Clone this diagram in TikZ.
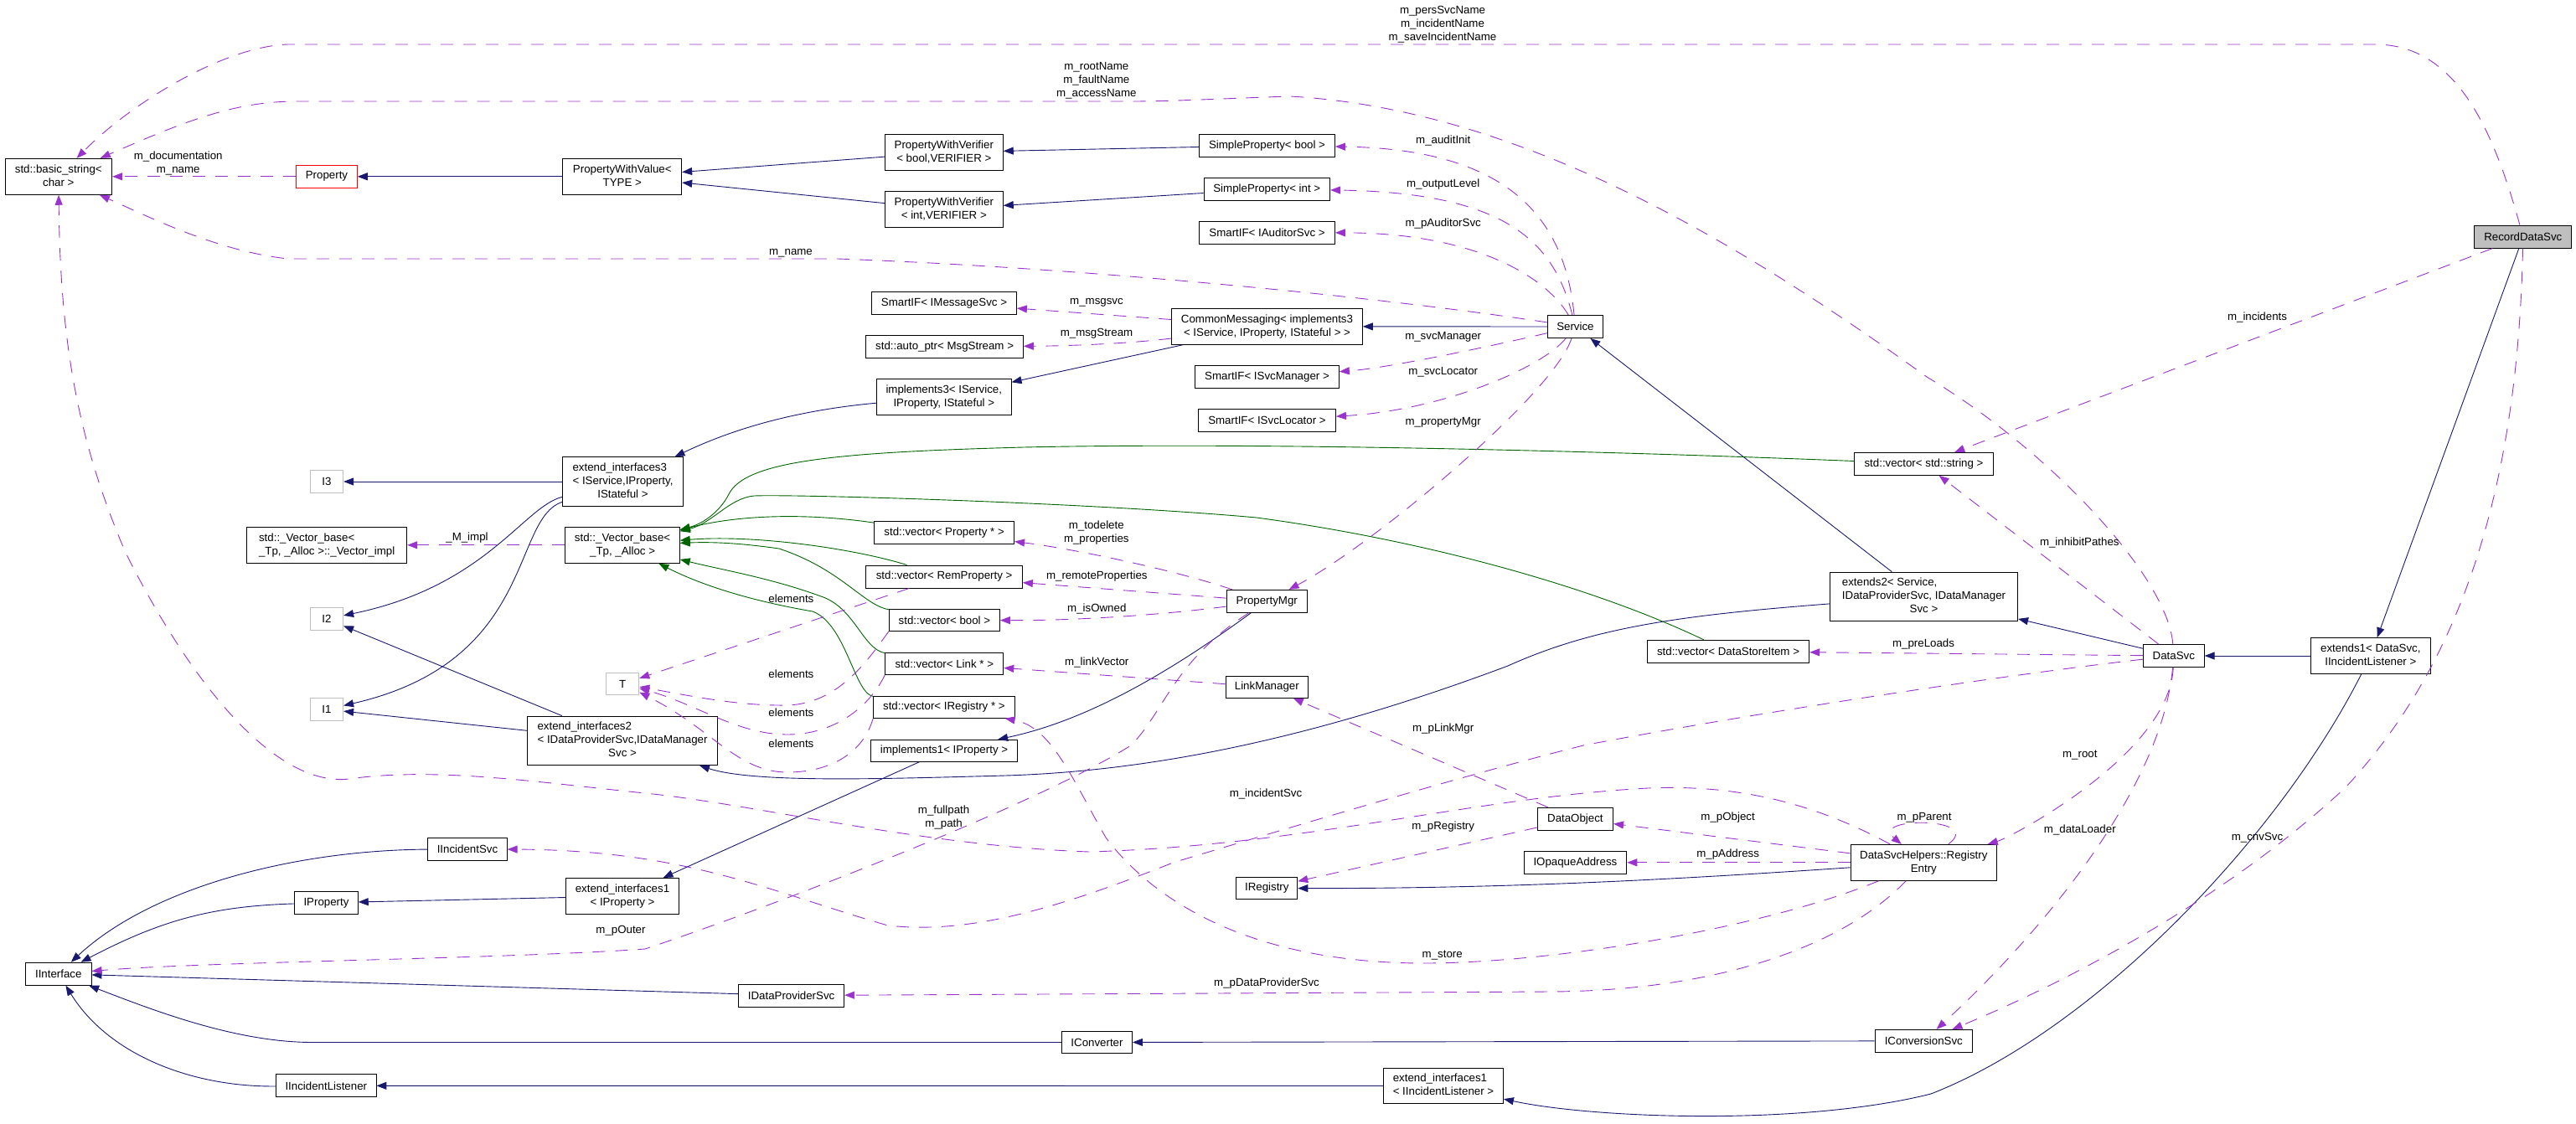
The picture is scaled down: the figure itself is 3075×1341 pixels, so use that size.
\documentclass[tikz,border=0pt]{standalone}
\usepackage{fontspec}
\setmainfont{Liberation Sans}
\usetikzlibrary{arrows.meta, positioning}
\definecolor{inhblue}{HTML}{191970}
\definecolor{tplgreen}{HTML}{006400}
\definecolor{usepurple}{HTML}{9A32CD}
\definecolor{boxgrey}{HTML}{BFBFBF}
% first lines left, last line centred (as doxygen does)
\newcommand{\twoline}[2]{\begin{tabular}{@{}l@{}}#1\\\multicolumn{1}{@{}c@{}}{#2}\end{tabular}}
\tikzset{
	cls/.style={draw=black, line width=0.9pt, fill=white, inner sep=2pt, minimum height=27pt},
	cls2/.style={cls, minimum height=43pt},
	cls3/.style={cls, minimum height=58.5pt},
	ghost/.style={cls, draw=boxgrey},
	lbl/.style={inner sep=0pt, text height=9.5pt, text depth=3pt},
	lblm/.style={inner sep=0pt, align=center},
	inh/.style={draw=inhblue, line width=0.9pt, -{Triangle[length=12pt,width=9pt]}},
	tpl/.style={draw=tplgreen, line width=0.9pt, -{Triangle[length=12pt,width=9pt]}},
	use/.style={draw=usepurple, line width=0.9pt, dash pattern=on 15pt off 12pt, -{Triangle[length=12pt,width=9pt]}}
}

\begin{document}
\begin{tikzpicture}[x=1pt, y=-1pt, font=\fontsize{13.3pt}{16pt}\selectfont]
			\useasboundingbox (0,0) rectangle (3075,1341);
			% Classes, left column
			\node[cls2, minimum width=127.7pt] (bstr) at (69.8,210.8) {\twoline{std::basic\_string<}{char >}};
			\node[cls, draw=red, minimum width=72.7pt] (prop) at (390,210.8) {Property};
			\node[ghost, minimum width=39.3pt] (i3) at (390,575) {I3};
			\node[cls2, minimum width=191.1pt] (vimpl) at (390.2,650.8) {\twoline{std::\_Vector\_base<}{\_Tp, \_Alloc >::\_Vector\_impl}};
			\node[ghost, minimum width=39.3pt] (i2) at (390,739) {I2};
			\node[ghost, minimum width=39.3pt] (i1) at (390,847) {I1};
			\node[cls, minimum width=94.3pt] (iis) at (558,1013.8) {IIncidentSvc};
			\node[cls, minimum width=75.6pt] (ipr) at (389.5,1077.8) {IProperty};
			\node[cls, minimum width=78.5pt] (iif) at (69.8,1162.7) {IInterface};
			\node[cls, minimum width=119.3pt] (iil) at (389.3,1296.3) {IIncidentListener};
			% Classes, second column
			\node[cls2, minimum width=141.8pt] (pwv) at (742.8,210.8) {\twoline{PropertyWithValue<}{TYPE >}};
			\node[cls3, minimum width=144.3pt] (ei3) at (743.5,575) {\twoline{extend\_interfaces3\\< IService,IProperty,}{IStateful >}};
			\node[cls2, minimum width=136.4pt] (vbase) at (743.1,650.8) {\twoline{std::\_Vector\_base<}{\_Tp, \_Alloc >}};
			\node[ghost, minimum width=39.3pt, minimum height=25.6pt] (tparam) at (743.2,816.5) {T};
			\node[cls3, minimum width=226.7pt] (ei2) at (743.05,884.3) {\twoline{extend\_interfaces2\\< IDataProviderSvc,IDataManager}{Svc >}};
			\node[cls2, minimum width=134.5pt] (ei1p) at (743,1070) {\twoline{extend\_interfaces1}{< IProperty >}};
			\node[cls, minimum width=126.2pt] (idps) at (944.6,1188.5) {IDataProviderSvc};
			% Classes, third column
			\node[cls2, minimum width=141pt] (pwvb) at (1126.8,181.8) {\twoline{PropertyWithVerifier}{< bool,VERIFIER >}};
			\node[cls2, minimum width=141pt] (pwvi) at (1126.8,249.8) {\twoline{PropertyWithVerifier}{< int,VERIFIER >}};
			\node[cls, minimum width=172.9pt] (smsg) at (1127,361.8) {SmartIF< IMessageSvc >};
			\node[cls, minimum width=187.6pt] (aptr) at (1127.6,413.8) {std::auto\_ptr< MsgStream >};
			\node[cls2, minimum width=160.6pt] (impl3) at (1126.8,473.8) {\twoline{implements3< IService,}{IProperty, IStateful >}};
			\node[cls, minimum width=167pt] (vprop) at (1127.1,636.3) {std::vector< Property * >};
			\node[cls, minimum width=186.6pt] (vrem) at (1127.1,688.5) {std::vector< RemProperty >};
			\node[cls, minimum width=132.1pt, minimum height=26pt] (vbool) at (1127.4,740.3) {std::vector< bool >};
			\node[cls, minimum width=141pt, minimum height=26pt] (vlink) at (1127.3,792.3) {std::vector< Link * >};
			\node[cls, minimum width=168.5pt, minimum height=26pt] (virg) at (1126.9,844.3) {std::vector< IRegistry * >};
			\node[cls, minimum width=174.9pt, minimum height=26pt] (impl1) at (1127,896.3) {implements1< IProperty >};
			\node[cls, minimum width=84pt, minimum height=25.6pt] (iconv) at (1309.5,1244.5) {IConverter};
			% Classes, fourth column
			\node[cls, minimum width=161.9pt] (spb) at (1512.5,173.8) {SimpleProperty< bool >};
			\node[cls, minimum width=150.6pt] (spi) at (1512.3,225.8) {SimpleProperty< int >};
			\node[cls, minimum width=161.9pt] (sfa) at (1512.5,277.8) {SmartIF< IAuditorSvc >};
			\node[cls2, minimum width=227.7pt] (cm) at (1512.5,389.8) {\twoline{CommonMessaging< implements3}{< IService, IProperty, IStateful > >}};
			\node[cls, minimum width=171.7pt] (smgr) at (1512.5,449.8) {SmartIF< ISvcManager >};
			\node[cls, minimum width=163.9pt] (sloc) at (1512.5,501.8) {SmartIF< ISvcLocator >};
			\node[cls, minimum width=96.6pt] (pmgr) at (1512.3,717.8) {PropertyMgr};
			\node[cls, minimum width=98.6pt, minimum height=26pt] (lmgr) at (1512.3,820.3) {LinkManager};
			\node[cls, minimum width=73pt, minimum height=25.6pt] (ireg) at (1512.3,1060.5) {IRegistry};
			\node[cls2, minimum width=142.9pt, minimum height=41.6pt] (ei1l) at (1723,1296.5) {\twoline{extend\_interfaces1}{< IIncidentListener >}};
			% Classes, right part
			\node[cls, minimum width=65.8pt] (srv) at (1880.4,390) {Service};
			\node[cls, minimum width=90.4pt] (dobj) at (1880.4,977.8) {DataObject};
			\node[cls, minimum width=122.8pt] (ioa) at (1880.4,1029.8) {IOpaqueAddress};
			\node[cls, minimum width=193.5pt] (vdsi) at (2063,777.8) {std::vector< DataStoreItem >};
			\node[cls, minimum width=166.3pt] (vstr) at (2296.5,553.8) {std::vector< std::string >};
			\node[cls3, minimum width=224.2pt] (ext2) at (2296.5,712.3) {\twoline{extends2< Service,\\IDataProviderSvc, IDataManager}{Svc >}};
			\node[cls2, minimum width=174.6pt] (re) at (2296.3,1029.8) {\twoline{DataSvcHelpers::Registry}{Entry}};
			\node[cls, minimum width=116.6pt] (ics) at (2296.3,1242.8) {IConversionSvc};
			\node[cls, minimum width=72.7pt] (dsvc) at (2594.8,783) {DataSvc};
			\node[cls2, minimum width=143pt, minimum height=42.6pt] (ext1) at (2829.8,783) {\twoline{extends1< DataSvc,}{IIncidentListener >}};
			\node[cls, fill=boxgrey, minimum width=115.9pt] (rds) at (3011.8,282.7) {RecordDataSvc};

			% Inheritance
			\draw[inh] (pwv) -- (prop);
			\draw[inh] (pwvb) -- (pwv);
			\draw[inh] (pwvi) -- (pwv);
			\draw[inh] (spb) -- (pwvb);
			\draw[inh] (spi) -- (pwvi);
			\draw[inh] (srv) -- (cm);
			\draw[inh] (cm) -- (impl3);
			\draw[inh] (impl3) .. controls (950,490) and (875,512) .. (ei3);
			\draw[inh] (ei3) -- (i3);
			\draw[inh] (ei3) .. controls (625,605) and (580,700) .. (i2);
			\draw[inh] (ei3) .. controls (610,620) and (640,790) .. (i1);
			\draw[inh] (ei2) -- (i2);
			\draw[inh] (ei2) -- (i1);
			\draw[inh] (ext2) .. controls (2000,735) and (1900,750) .. (1800,795) .. controls (1600,870) and (1400,920) .. (1200,926) .. controls (1050,930) and (900,935) .. (ei2);
			\draw[inh] (ext2) -- (srv);
			\draw[inh] (dsvc) -- (ext2);
			\draw[inh] (ext1) -- (dsvc);
			\draw[inh] (rds) -- (ext1);
			\draw[inh] (ext1) .. controls (2720,1000) and (2500,1230) .. (2305,1306) .. controls (2150,1345) and (1900,1335) .. (ei1l);
			\draw[inh] (ei1l) -- (iil);
			\draw[inh] (re) .. controls (2000,1050) and (1800,1061) .. (ireg);
			\draw[inh] (ics) -- (iconv);
			\draw[inh] (ei1p) -- (ipr);
			\draw[inh] (impl1) -- (ei1p);
			\draw[inh] (pmgr) .. controls (1400,800) and (1300,860) .. (impl1);
			\draw[inh] (iis) .. controls (350,1015) and (180,1060) .. (iif);
			\draw[inh] (ipr) .. controls (250,1082) and (190,1100) .. (iif);
			\draw[inh] (idps) -- (iif);
			\draw[inh] (iconv) -- (373,1244.5) .. controls (280,1244.5) and (180,1205) .. (iif);
			\draw[inh] (iil) .. controls (230,1298) and (130,1260) .. (iif);

			% Template instances
			\draw[tpl] (vstr) .. controls (1900,538) and (1500,528) .. (1222,534) .. controls (1000,540) and (890,550) .. (870,590) .. controls (860,610) and (840,625) .. (vbase);
			\draw[tpl] (vdsi) .. controls (1900,700) and (1700,645) .. (1500,618) .. controls (1300,600) and (950,590) .. (900,592) .. controls (870,595) and (850,625) .. (vbase);
			\draw[tpl] (vprop) .. controls (960,612) and (880,615) .. (vbase);
			\draw[tpl] (vrem) .. controls (1020,655) and (900,638) .. (vbase);
			\draw[tpl] (vbool) .. controls (1030,722) and (1005,680) .. (930,655) .. controls (880,648) and (850,647) .. (vbase);
			\draw[tpl] (vlink) .. controls (1030,775) and (1020,725) .. (980,712) .. controls (920,690) and (860,680) .. (vbase);
			\draw[tpl] (virg) .. controls (1020,828) and (1010,745) .. (970,730) .. controls (900,718) and (840,700) .. (vbase);

			% Usage
			\draw[use] (prop) -- (bstr);
			\draw[use] (rds) .. controls (2975,150) and (2930,53) .. (2835,53) -- (344,53) .. controls (270,55) and (160,120) .. (bstr);
			\draw[use] (dsvc) .. controls (2588,690) and (2450,540) .. (2300,450) .. controls (2050,270) and (1800,130) .. (1540,115) .. controls (1450,118) and (1400,121) .. (1350,121) -- (354,121) .. controls (280,121) and (220,145) .. (bstr);
			\draw[use] (srv) .. controls (1650,355) and (1300,320) .. (1000,309) -- (344,309) .. controls (260,300) and (180,260) .. (bstr);
			\draw[use] (re) .. controls (2150,950) and (2050,935) .. (1950,942) .. controls (1750,955) and (1550,1010) .. (1300,1017) .. controls (1100,1010) and (900,960) .. (770,947) .. controls (650,935) and (520,915) .. (417,930) .. controls (330,940) and (230,820) .. (150,660) .. controls (90,520) and (72,400) .. (bstr);
			\draw[use] (dsvc) .. controls (2400,805) and (2100,850) .. (1890,890) .. controls (1750,925) and (1550,985) .. (1400,1030) .. controls (1250,1090) and (1150,1115) .. (1060,1105) .. controls (920,1065) and (820,1015) .. (iis);
			\draw[use] (dsvc) -- (vdsi);
			\draw[use] (dsvc) -- (vstr);
			\draw[use] (rds) -- (vstr);
			\draw[use] (dsvc) .. controls (2590,900) and (2400,1000) .. (re);
			\draw[use] (dsvc) .. controls (2580,950) and (2420,1130) .. (ics);
			\draw[use] (rds) .. controls (3005,600) and (2930,800) .. (2800,940) .. controls (2650,1080) and (2450,1180) .. (ics);
			\draw[use] (re) -- (dobj);
			\draw[use] (re) -- (ioa);
			\draw[use] (re) .. controls (2370,975) and (2230,975) .. (re);
			\draw[use] (re) .. controls (2200,1130) and (2050,1183) .. (1850,1184) -- (idps);
			\draw[use] (re) .. controls (2100,1110) and (1850,1150) .. (1700,1150) .. controls (1500,1150) and (1380,1080) .. (1320,1000) .. controls (1280,930) and (1255,868) .. (virg);
			\draw[use] (dobj) -- (ireg);
			\draw[use] (dobj) -- (lmgr);
			\draw[use] (srv) .. controls (1868,260) and (1800,178) .. (spb);
			\draw[use] (srv) .. controls (1855,290) and (1800,230) .. (spi);
			\draw[use] (srv) .. controls (1845,330) and (1760,278) .. (sfa);
			\draw[use] (srv) .. controls (1750,420) and (1650,440) .. (smgr);
			\draw[use] (srv) .. controls (1840,440) and (1720,490) .. (sloc);
			\draw[use] (srv) .. controls (1855,470) and (1640,650) .. (pmgr);
			\draw[use] (cm) -- (smsg);
			\draw[use] (cm) .. controls (1350,410) and (1280,413) .. (aptr);
			\draw[use] (pmgr) .. controls (1400,680) and (1280,655) .. (vprop);
			\draw[use] (pmgr) -- (vrem);
			\draw[use] (pmgr) .. controls (1380,735) and (1280,741) .. (vbool);
			\draw[use] (lmgr) -- (vlink);
			\draw[use] (vbase) -- (vimpl);
			\draw[use] (vrem) -- (tparam);
			\draw[use] (vbool.south west) .. controls (1035,790) and (1000,840) .. (940,842) .. controls (880,843) and (820,830) .. (tparam);
			\draw[use] (vlink.south west) .. controls (1040,840) and (1000,877) .. (940,877) .. controls (880,877) and (830,840) .. (tparam);
			\draw[use] (virg.south west) .. controls (1030,900) and (990,922) .. (940,922) .. controls (880,922) and (850,870) .. (tparam);
			\draw[use] (pmgr) .. controls (1400,790) and (1390,850) .. (1350,890) .. controls (1230,965) and (900,1090) .. (770,1133) .. controls (600,1145) and (250,1148) .. (iif);

			% Member names
			\node[lblm] (lpers) at (1722,28.7) {m\_persSvcName\\m\_incidentName\\m\_saveIncidentName};
			\node[lblm] (lroot) at (1308.8,96.7) {m\_rootName\\m\_faultName\\m\_accessName};
			\node[lblm] (ldoc) at (212.7,194.7) {m\_documentation\\m\_name};
			\node[lbl] (lname) at (944,301) {m\_name};
			\node[lbl] (laudit) at (1722.7,168.7) {m\_auditInit};
			\node[lbl] (lout) at (1722.7,220.7) {m\_outputLevel};
			\node[lbl] (lpaud) at (1722.7,267.7) {m\_pAuditorSvc};
			\node[lbl] (lmsgsvc) at (1309,360.7) {m\_msgsvc};
			\node[lbl] (lmsgstr) at (1309,398.7) {m\_msgStream};
			\node[lbl] (lsvcm) at (1722.7,402.7) {m\_svcManager};
			\node[lbl] (lsvcl) at (1722.7,444.3) {m\_svcLocator};
			\node[lbl] (lpmgr) at (1722.7,504) {m\_propertyMgr};
			\node[lbl] (linc) at (2694.5,379.3) {m\_incidents};
			\node[lbl] (limpl) at (557.5,642.3) {\_M\_impl};
			\node[lblm] (ltodel) at (1308.8,635.7) {m\_todelete\\m\_properties};
			\node[lbl] (lremote) at (1309.3,688.7) {m\_remoteProperties};
			\node[lbl] (lowned) at (1309.3,727.3) {m\_isOwned};
			\node[lbl] (llink) at (1309.3,791.3) {m\_linkVector};
			\node[lbl] (lel1) at (944.4,716) {elements};
			\node[lbl] (lel2) at (944.4,806.7) {elements};
			\node[lbl] (lel3) at (944.4,852.7) {elements};
			\node[lbl] (lel4) at (944.4,889) {elements};
			\node[lbl] (linhib) at (2482.3,648.7) {m\_inhibitPathes};
			\node[lbl] (lpre) at (2296,769) {m\_preLoads};
			\node[lbl] (lplink) at (1722.7,870.7) {m\_pLinkMgr};
			\node[lbl] (lroot2) at (2482.8,901) {m\_root};
			\node[lbl] (ldl) at (2482.8,991.7) {m\_dataLoader};
			\node[lbl] (lcnv) at (2694.5,1000.7) {m\_cnvSvc};
			\node[lblm] (lfull) at (1126.6,975.7) {m\_fullpath\\m\_path};
			\node[lbl] (lincsvc) at (1511,948.7) {m\_incidentSvc};
			\node[lbl] (lpreg) at (1722.7,987.7) {m\_pRegistry};
			\node[lbl] (lpobj) at (2062.6,976.7) {m\_pObject};
			\node[lbl] (lpadr) at (2062.6,1020.7) {m\_pAddress};
			\node[lbl] (lpar) at (2297,976) {m\_pParent};
			\node[lbl] (lstore) at (1721.7,1140) {m\_store};
			\node[lbl] (lpdps) at (1512,1174.3) {m\_pDataProviderSvc};
			\node[lbl] (louter) at (741,1111.7) {m\_pOuter};
		\end{tikzpicture}
\end{document}
